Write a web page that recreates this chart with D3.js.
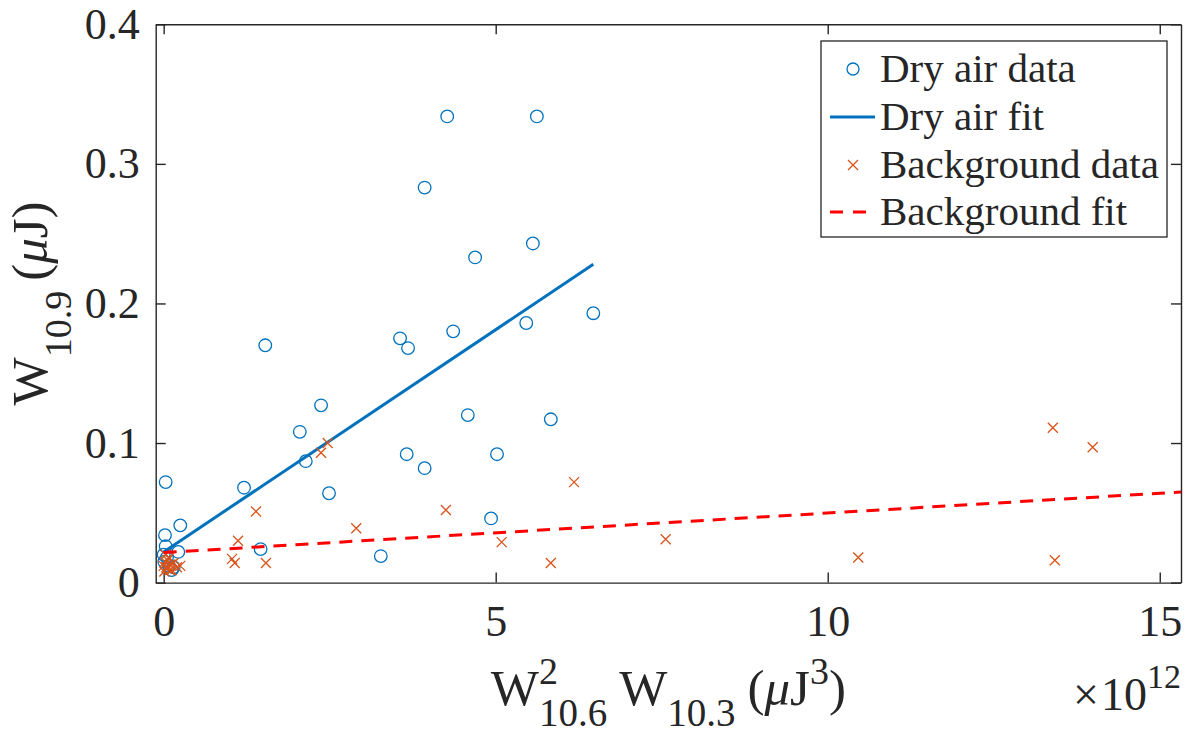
<!DOCTYPE html>
<html>
<head>
<meta charset="utf-8">
<script src="https://cdn.jsdelivr.net/npm/d3@7"></script>
</head>
<body style="margin:0;background:#fff">
<svg id="chart" width="1189" height="738"></svg>
<script>
// ---------- data (x in units of 1e12 µJ^3, y in µJ) ----------
const dryX = [4.27, 5.62, 3.93, 5.56, 4.69, 6.47, 5.46, 4.36, 3.56, 3.68, 1.53, 2.37, 2.05, 4.58, 5.83,
              2.14, 3.66, 5.02, 3.93, 1.21, 2.49, 0.03, 0.25, 4.93, 0.02, 1.46, 3.27, 0.03, 0.22, 0.12,
              0.01, 0.05, 0.08, 0.15, 0.00];
const dryY = [0.334, 0.334, 0.283, 0.243, 0.233, 0.193, 0.186, 0.180, 0.175, 0.168, 0.170, 0.127, 0.108, 0.120, 0.117,
              0.087, 0.092, 0.092, 0.082, 0.068, 0.064, 0.072, 0.041, 0.046, 0.034, 0.024, 0.019, 0.026, 0.022, 0.009,
              0.015, 0.018, 0.012, 0.011, 0.020];
const dryFitX = [0.00, 6.47];
const dryFitY = [0.022, 0.228];

const bgX = [13.39, 13.99, 6.18, 2.47, 2.37, 4.25, 1.39, 2.90, 7.56, 5.09, 1.12, 1.03, 1.07, 1.54, 5.83,
             10.46, 13.42, 0.00, 0.02, 0.05, 0.08, 0.10, 0.03, 0.12, 0.15, 0.20, 0.01, 0.06, 0.25, 0.04, 0.09];
const bgY = [0.111, 0.097, 0.072, 0.100, 0.093, 0.052, 0.051, 0.039, 0.031, 0.029, 0.030, 0.017, 0.014, 0.014, 0.014,
             0.018, 0.016, 0.012, 0.015, 0.010, 0.018, 0.013, 0.020, 0.009, 0.014, 0.011, 0.008, 0.016, 0.012, 0.011, 0.009];
const bgFitX = [0.00, 15.32];
const bgFitY = [0.0215, 0.0649];

const xTicks = [0, 5, 10, 15];
const yTicks = [0, 0.1, 0.2, 0.3, 0.4];
const legendLabels = ["Dry air data", "Dry air fit", "Background data", "Background fit"];

// ---------- layout ----------
const FONT = "Liberation Serif";
const svg = d3.select("#chart");
const L = 155.7, R = 1181, T = 24.3, B = 582.6;
const x = d3.scaleLinear().domain([-0.12, 15.32]).range([L, R]);
const y = d3.scaleLinear().domain([0, 0.4]).range([B, T]);
const blue = "#0072BD", orange = "#D95319", red = "#FF0000", axCol = "#262626";
const tickFont = 44;

svg.append("rect").attr("x", 0).attr("y", 0).attr("width", 1189).attr("height", 738).attr("fill", "#fff");

svg.append("clipPath").attr("id", "clip").append("rect")
  .attr("x", L).attr("y", T).attr("width", R - L).attr("height", B - T);

// axes
function styleAxis(g) {
  g.attr("font-family", null);
  g.select(".domain").attr("stroke", axCol).attr("stroke-width", 1.4);
  g.selectAll(".tick line").attr("stroke", axCol).attr("stroke-width", 1.4);
  g.selectAll(".tick text").attr("font-size", tickFont).attr("fill", axCol)
    .style("font-family", FONT);
}
const yFmt = d => d === 0 ? "0" : d3.format(".1f")(d);

svg.append("g").attr("transform", `translate(0,${B})`)
  .call(d3.axisBottom(x).tickValues(xTicks).tickFormat(d3.format("d")).tickSizeInner(-10).tickSizeOuter(0).tickPadding(22))
  .call(styleAxis);
svg.append("g").attr("transform", `translate(0,${T})`)
  .call(d3.axisTop(x).tickValues(xTicks).tickFormat("").tickSizeInner(-10).tickSizeOuter(0))
  .call(styleAxis);
svg.append("g").attr("transform", `translate(${L},0)`)
  .call(d3.axisLeft(y).tickValues(yTicks).tickFormat(yFmt).tickSizeInner(-10).tickSizeOuter(0).tickPadding(16))
  .call(styleAxis)
  .selectAll(".tick text").attr("dy", "0.32em");
svg.append("g").attr("transform", `translate(${R},0)`)
  .call(d3.axisRight(y).tickValues(yTicks).tickFormat("").tickSizeInner(-10).tickSizeOuter(0))
  .call(styleAxis);

// ---------- marks ----------
const plot = svg.append("g").attr("clip-path", "url(#clip)");
const dry = dryX.map((v, i) => [v, dryY[i]]);
const bg = bgX.map((v, i) => [v, bgY[i]]);
const line = d3.line().x(d => x(d[0])).y(d => y(d[1]));

plot.selectAll("circle.dry").data(dry).join("circle").attr("class", "dry")
  .attr("cx", d => x(d[0])).attr("cy", d => y(d[1])).attr("r", 6.3)
  .attr("fill", "none").attr("stroke", blue).attr("stroke-width", 1.3);

plot.append("path").datum(dryFitX.map((v, i) => [v, dryFitY[i]]))
  .attr("d", line).attr("fill", "none").attr("stroke", blue).attr("stroke-width", 3);

const cross = s => `M${-s},${-s}L${s},${s}M${-s},${s}L${s},${-s}`;
plot.selectAll("path.bg").data(bg).join("path").attr("class", "bg")
  .attr("transform", d => `translate(${x(d[0])},${y(d[1])})`)
  .attr("d", cross(5)).attr("fill", "none").attr("stroke", orange).attr("stroke-width", 1.3);

plot.append("path").datum(bgFitX.map((v, i) => [v, bgFitY[i]]))
  .attr("d", line).attr("fill", "none").attr("stroke", red).attr("stroke-width", 3)
  .attr("stroke-dasharray", "13,9");

// ---------- rich text labels ----------
function rich(parent, pieces) {
  const g = parent.append("g");
  let cx = 0, lastStart = 0, lastW = 0;
  pieces.forEach(p => {
    const t = g.append("text").attr("font-size", p.fs).attr("y", p.shift || 0)
      .style("font-family", FONT).attr("fill", axCol)
      .attr("font-style", p.it ? "italic" : "normal").text(p.t);
    const w = t.node().getComputedTextLength();
    if (p.stack) {
      t.attr("x", lastStart);
      lastW = Math.max(lastW, w);
      cx = lastStart + lastW + (p.gap || 0);
    } else {
      t.attr("x", cx);
      lastStart = cx; lastW = w;
      cx += w + (p.gap || 0);
    }
  });
  return { g, width: cx };
}

// x label
const xl = rich(svg, [
  { t: "W", fs: 51 },
  { t: "2", fs: 38, shift: -21 },
  { t: "10.6", fs: 39, shift: 21, stack: true, gap: 12 },
  { t: "W", fs: 51 },
  { t: "10.3", fs: 39, shift: 21, gap: 12 },
  { t: "(", fs: 51 },
  { t: "μ", fs: 51, it: true },
  { t: "J", fs: 51 },
  { t: "3", fs: 38, shift: -21 },
  { t: ")", fs: 51 }
]);
xl.g.attr("transform", `translate(${(L + R) / 2 - xl.width / 2},705)`);

// y label
const yl = rich(svg, [
  { t: "W", fs: 51 },
  { t: "10.9", fs: 38, shift: 24, gap: 10 },
  { t: "(", fs: 51 },
  { t: "μ", fs: 51, it: true },
  { t: "J", fs: 51 },
  { t: ")", fs: 51 }
]);
yl.g.attr("transform", `translate(47,${(T + B) / 2 + yl.width / 2}) rotate(-90)`);

// x exponent
const ex = rich(svg, [
  { t: "×", fs: 46, gap: 2 },
  { t: "10", fs: 46 },
  { t: "12", fs: 34, shift: -22 }
]);
ex.g.attr("transform", `translate(${R - ex.width},710)`);

// ---------- legend ----------
const lg = svg.append("g");
lg.append("rect").attr("x", 821).attr("y", 41).attr("width", 346).attr("height", 196)
  .attr("fill", "#fff").attr("stroke", axCol).attr("stroke-width", 1.3);
const rowY = [69, 117, 165, 212];
const sx0 = 830, sx1 = 875, smid = 853;
legendLabels.forEach((lab, i) => {
  const yy = rowY[i];
  if (i === 0) lg.append("circle").attr("cx", smid).attr("cy", yy).attr("r", 6)
    .attr("fill", "none").attr("stroke", blue).attr("stroke-width", 1.3);
  if (i === 1) lg.append("line").attr("x1", sx0).attr("x2", sx1).attr("y1", yy).attr("y2", yy)
    .attr("stroke", blue).attr("stroke-width", 3);
  if (i === 2) lg.append("path").attr("transform", `translate(${smid},${yy})`).attr("d", cross(5))
    .attr("fill", "none").attr("stroke", orange).attr("stroke-width", 1.3);
  if (i === 3) lg.append("line").attr("x1", sx0).attr("x2", sx1).attr("y1", yy).attr("y2", yy)
    .attr("stroke", red).attr("stroke-width", 3).attr("stroke-dasharray", "13,10");
  lg.append("text").attr("x", 880).attr("y", yy + 13).attr("font-size", 41)
    .style("font-family", FONT).attr("fill", axCol).text(lab);
});
</script>
</body>
</html>
